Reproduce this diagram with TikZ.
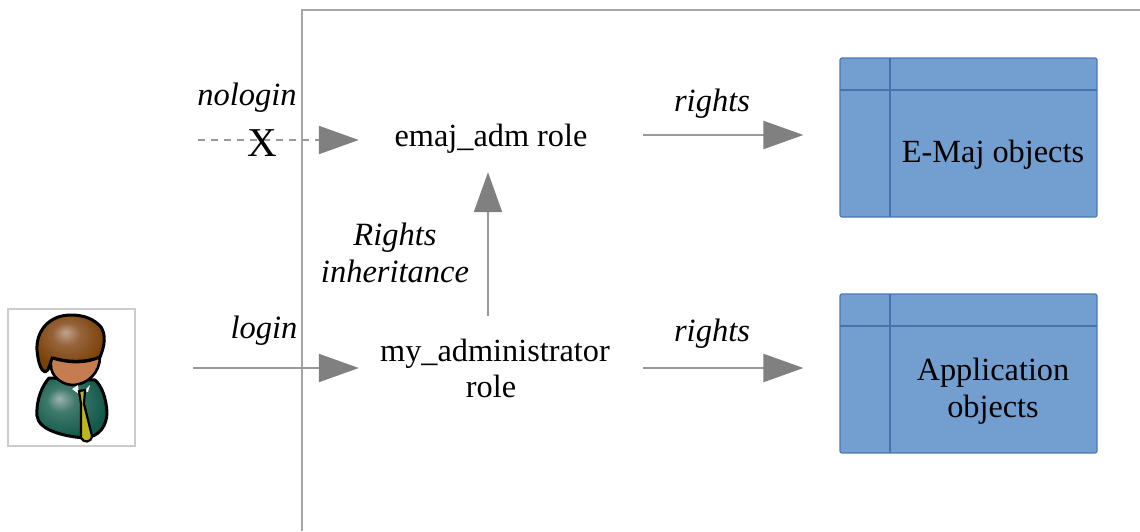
\documentclass[tikz,border=0pt]{standalone}
\usepackage{fontspec}
\setmainfont{Liberation Serif}
\usetikzlibrary{arrows.meta,calc}
\definecolor{arrowgray}{HTML}{808080}
\definecolor{linegray}{HTML}{999999}
\definecolor{framegray}{HTML}{A6A6A6}
\definecolor{boxfill}{HTML}{729FCF}
\definecolor{boxline}{HTML}{4A7AB5}
\definecolor{divline}{HTML}{4372AE}
\definecolor{facecol}{HTML}{C47C50}
\definecolor{tiecol}{HTML}{BDB61E}
\definecolor{hairA}{HTML}{BFA48E}
\definecolor{hairB}{HTML}{96623A}
\definecolor{hairC}{HTML}{7A4208}
\definecolor{bodyA}{HTML}{9DB3AC}
\definecolor{bodyB}{HTML}{3F7A6B}
\definecolor{bodyC}{HTML}{12594A}
\pgfdeclareradialshading{hairshade}{\pgfpoint{-4bp}{10bp}}{color(0bp)=(hairA);color(10bp)=(hairB);color(26bp)=(hairC);color(50bp)=(hairC)}
\pgfdeclareradialshading{bodyshade}{\pgfpoint{-9bp}{8bp}}{color(0bp)=(bodyA);color(10bp)=(bodyB);color(28bp)=(bodyC);color(50bp)=(bodyC)}
\tikzset{
  lab/.style={inner sep=0pt,font=\fontsize{32.3}{37}\selectfont,align=center},
  ilab/.style={lab,font=\fontsize{32.5}{37}\selectfont\itshape},
  rolebox/.style={lab,minimum height=#1},
  objbox/.style={draw=boxline,fill=boxfill,line width=1.2pt,rounded corners=2pt,minimum width=257pt,minimum height=159pt,inner sep=0pt},
  divider/.style={draw=divline,line width=2pt,shorten <=0.5pt,shorten >=0.5pt},
  arr/.style={draw=linegray,line width=2.2pt,-{Triangle[length=40pt,width=28pt,color=arrowgray]}},
  dasharr/.style={draw=linegray,line width=2.2pt,dash pattern=on 7pt off 6pt,-{Triangle[length=40pt,width=28pt,color=arrowgray]}},
  outline/.style={draw=black,line width=3pt,line join=round}
}
\begin{document}
\begin{tikzpicture}[x=1pt,y=-1pt]
\useasboundingbox (0,0) rectangle (1140,531);
\draw[framegray,line width=2pt] (302,531) -- (302,9.5) -- (1140,9.5);

% person
\node[draw=black!20,line width=1.2pt,fill=white,minimum width=127pt,minimum height=137pt,inner sep=0pt] (person) at (71.5,377.5) {};
\path[outline,shading=bodyshade] (49,378) .. controls (42,386) and (36,400) .. (37,416)
  .. controls (39,430) and (62,436) .. (84,438) .. controls (100,437) and (107,425) .. (107,412)
  .. controls (106,398) and (102,386) .. (95,380) -- cycle;
\path[outline,shading=hairshade] (71,315)
  .. controls (48,315) and (36,332) .. (37,350)
  .. controls (38,362) and (41,371) .. (45,372)
  .. controls (50,371) and (49,362) .. (53,358)
  .. controls (70,363) and (88,362) .. (100,357)
  .. controls (105,345) and (106,335) .. (101,327)
  .. controls (94,319) and (84,315) .. (71,315) -- cycle;
\fill[draw=black,line width=2.6pt,fill=facecol] (52,358)
  .. controls (70,364) and (88,363) .. (100,357)
  .. controls (100,372) and (88,385) .. (72,385)
  .. controls (58,384) and (47,372) .. (52,358) -- cycle;
\fill[white] (72,389) -- (78,385) -- (79,394) -- cycle;
\fill[white] (90,385) -- (84,391) -- (88,392) -- cycle;
\fill[draw=black,line width=2.2pt,fill=tiecol] (79,391) -- (85,390) -- (84,404)
  -- (92,436) .. controls (91,443) and (84,443) .. (81,438) -- (81,404) -- cycle;

% labels and roles
\node[rolebox=66pt,minimum width=264pt] (emaj) at (491,139) {emaj\_adm role};
\node[rolebox=104pt,minimum width=272pt,font=\fontsize{32.3}{36}\selectfont] (myadm) at (495,368) {my\_administrator\\\mbox{role\hspace{8pt}}};

% objects
\node[objbox] (eobj) at (968.5,137.5) {};
\node[objbox] (aobj) at (968.5,373.5) {};
\draw[divider] ($(eobj.north west)+(50.5,0)$) -- ($(eobj.south west)+(50.5,0)$);
\draw[divider] ($(eobj.north west)+(0,32.5)$) -- ($(eobj.north east)+(0,32.5)$);
\draw[divider] ($(aobj.north west)+(50.5,0)$) -- ($(aobj.south west)+(50.5,0)$);
\draw[divider] ($(aobj.north west)+(0,32.5)$) -- ($(aobj.north east)+(0,32.5)$);
\node[lab] (etext) at (993,155) {E-Maj objects};
\node[lab] (atext) at (993,391) {Application\\objects};

% connectors
\coordinate (nolog) at (198,140);
\coordinate (log) at (193,368);
\coordinate (eout) at ($(emaj.east)+(0,-4)$);
\draw[dasharr] (nolog) -- (nolog -| emaj.west);
\draw[arr] (log) -- (log -| myadm.west);
\draw[arr] ($(myadm.north)+(-7,0)$) -- ($(emaj.south)+(-3,0)$);
\draw[arr,shorten <=20pt,shorten >=36pt] (eout) -- (eout -| eobj.west);
\draw[arr,shorten <=12pt,shorten >=36pt] (myadm.east) -- (myadm.east -| aobj.west);

\node[ilab] (nologin) at (247,98) {nologin};
\node[ilab] (login) at (264,331) {login};
\node[ilab] (r1) at (712,104) {rights};
\node[ilab] (r2) at (712,334) {rights};
\node[ilab] (inh) at (395,252.5) {Rights\\inheritance};
\node[lab,font=\fontsize{41}{41}\selectfont] (x) at (262,143) {X};
\end{tikzpicture}
\end{document}
